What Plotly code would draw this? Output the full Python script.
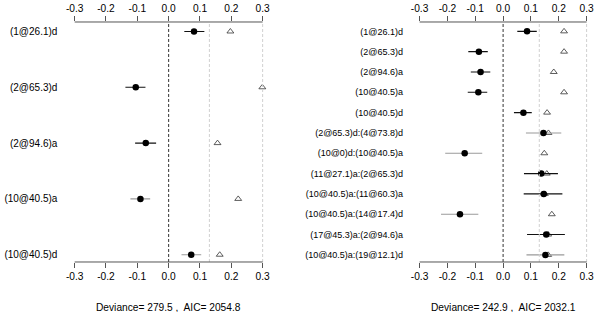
import plotly.graph_objects as go

# ---- Left panel data ----
left_labels = ["(1@26.1)d", "(2@65.3)d", "(2@94.6)a", "(10@40.5)a", "(10@40.5)d"]
left_est = [0.081, -0.105, -0.073, -0.090, 0.072]
left_lo = [0.050, -0.138, -0.107, -0.122, 0.041]
left_hi = [0.114, -0.074, -0.040, -0.059, 0.104]
left_tri = [0.197, 0.299, 0.156, 0.222, 0.163]
left_grey = [0, 0, 0, 1, 1]
left_text = "Deviance= 279.5 ,  AIC= 2054.8"

# ---- Right panel data ----
right_labels = ["(1@26.1)d", "(2@65.3)d", "(2@94.6)a", "(10@40.5)a", "(10@40.5)d",
                "(2@65.3)d:(4@73.8)d", "(10@0)d:(10@40.5)a", "(11@27.1)a:(2@65.3)d",
                "(10@40.5)a:(11@60.3)a", "(10@40.5)a:(14@17.4)d", "(17@45.3)a:(2@94.6)a",
                "(10@40.5)a:(19@12.1)d"]
right_est = [0.086, -0.087, -0.081, -0.089, 0.073, 0.145, -0.138, 0.137, 0.146, -0.155, 0.155, 0.152]
right_lo = [0.051, -0.125, -0.116, -0.127, 0.039, 0.082, -0.208, 0.075, 0.074, -0.223, 0.086, 0.084]
right_hi = [0.121, -0.055, -0.046, -0.057, 0.103, 0.209, -0.075, 0.197, 0.213, -0.089, 0.222, 0.220]
right_tri = [0.219, 0.219, 0.182, 0.219, 0.158, 0.163, 0.148, 0.157, 0.150, 0.175, 0.162, 0.162]
right_grey = [0, 0, 0, 0, 0, 1, 1, 0, 0, 1, 0, 1]
right_text = "Deviance= 242.9 ,  AIC= 2032.1"

tick_vals = [-0.3, -0.2, -0.1, 0.0, 0.1, 0.2, 0.3]
tick_text = ["-0.3", "-0.2", "-0.1", "0.0", "0.1", "0.2", "0.3"]
ref_zero = 0.0
ref_grey = [0.13, 0.3]

FONT = "Liberation Sans, Arial, sans-serif"
FS = 10.2

fig = go.Figure()

panels = [
    dict(labels=left_labels, est=left_est, lo=left_lo, hi=left_hi, tri=left_tri, grey=left_grey,
         text=left_text, xa="x", ya="y", xtop="x3", dom=[0.1099, 0.4469], yr=[4.13, -0.17], lfs=10.0),
    dict(labels=right_labels, est=right_est, lo=right_lo, hi=right_hi, tri=right_tri, grey=right_grey,
         text=right_text, xa="x2", ya="y2", xtop="x4", dom=[0.6908, 0.9902], yr=[11.35, -0.46], lfs=9.0),
]

XR = [-0.32, 0.32]
YDOM = [0.1603, 0.9295]

for p in panels:
    n = len(p["labels"])
    ys = list(range(n))
    # reference lines
    fig.add_shape(type="line", xref=p["xa"], yref=p["ya"] + " domain", x0=ref_zero, x1=ref_zero,
                  y0=0, y1=1, line=dict(color="#333333", width=1, dash="3px,2px"))
    for r in ref_grey:
        fig.add_shape(type="line", xref=p["xa"], yref=p["ya"] + " domain", x0=r, x1=r,
                      y0=0, y1=1, line=dict(color="#d0d0d0", width=1, dash="3px,2px"))
    # axis lines from -0.3 to 0.3
    for yy in (0, 1):
        fig.add_shape(type="line", xref=p["xa"], yref=p["ya"] + " domain", x0=tick_vals[0], x1=tick_vals[-1],
                      y0=yy, y1=yy, line=dict(color="#555555", width=1))
    # triangles
    fig.add_trace(go.Scatter(x=p["tri"], y=ys, mode="markers", xaxis=p["xa"], yaxis=p["ya"],
                             marker=dict(symbol="triangle-up-open", size=6, color="#333333",
                                         line=dict(width=0.8)),
                             showlegend=False, hoverinfo="skip"))
    # error bars + points, by group
    for g, col in ((0, "#111111"), (1, "#9a9a9a")):
        idx = [i for i in range(n) if p["grey"][i] == g]
        if not idx:
            continue
        fig.add_trace(go.Scatter(
            x=[p["est"][i] for i in idx], y=[ys[i] for i in idx], mode="markers",
            xaxis=p["xa"], yaxis=p["ya"],
            marker=dict(symbol="circle", size=6.5, color="black"),
            error_x=dict(type="data", symmetric=False,
                         array=[p["hi"][i] - p["est"][i] for i in idx],
                         arrayminus=[p["est"][i] - p["lo"][i] for i in idx],
                         width=0, color=col, thickness=1.1),
            showlegend=False, hoverinfo="skip"))
    # dummy trace for top axis
    fig.add_trace(go.Scatter(x=[0], y=[0], xaxis=p["xtop"], yaxis=p["ya"], mode="markers",
                             marker=dict(opacity=0), showlegend=False, hoverinfo="skip"))
    # bottom text
    fig.add_annotation(text=p["text"], xref=p["xa"], yref="paper", x=0, y=5 / 312,
                       yanchor="middle", showarrow=False, font=dict(family=FONT, size=FS, color="black"))

common_x = dict(range=XR, tickvals=tick_vals, ticktext=tick_text, ticks="outside", ticklen=5,
                tickcolor="#555555", showgrid=False, zeroline=False, showline=False,
                tickfont=dict(family=FONT, size=FS, color="black"), fixedrange=True)

layout = dict(
    width=600, height=312, margin=dict(l=0, r=0, t=0, b=0),
    paper_bgcolor="white", plot_bgcolor="white",
    xaxis=dict(domain=panels[0]["dom"], anchor="y", side="bottom", **common_x),
    xaxis3=dict(domain=panels[0]["dom"], anchor="y", overlaying="x", side="top", **common_x),
    xaxis2=dict(domain=panels[1]["dom"], anchor="y2", side="bottom", **common_x),
    xaxis4=dict(domain=panels[1]["dom"], anchor="y2", overlaying="x2", side="top", **common_x),
)
for key, p in (("yaxis", panels[0]), ("yaxis2", panels[1])):
    layout[key] = dict(domain=YDOM, range=p["yr"], tickvals=list(range(len(p["labels"]))),
                       ticktext=p["labels"], showgrid=False, zeroline=False, showline=False,
                       ticks="", ticklabelstandoff=10, anchor=p["xa"],
                       tickfont=dict(family=FONT, size=p["lfs"], color="black"), fixedrange=True)

fig.update_layout(**layout)
fig.write_html("out.html", config={"displayModeBar": False},
               post_script="document.body.style.margin='0';document.body.style.overflow='hidden';")
